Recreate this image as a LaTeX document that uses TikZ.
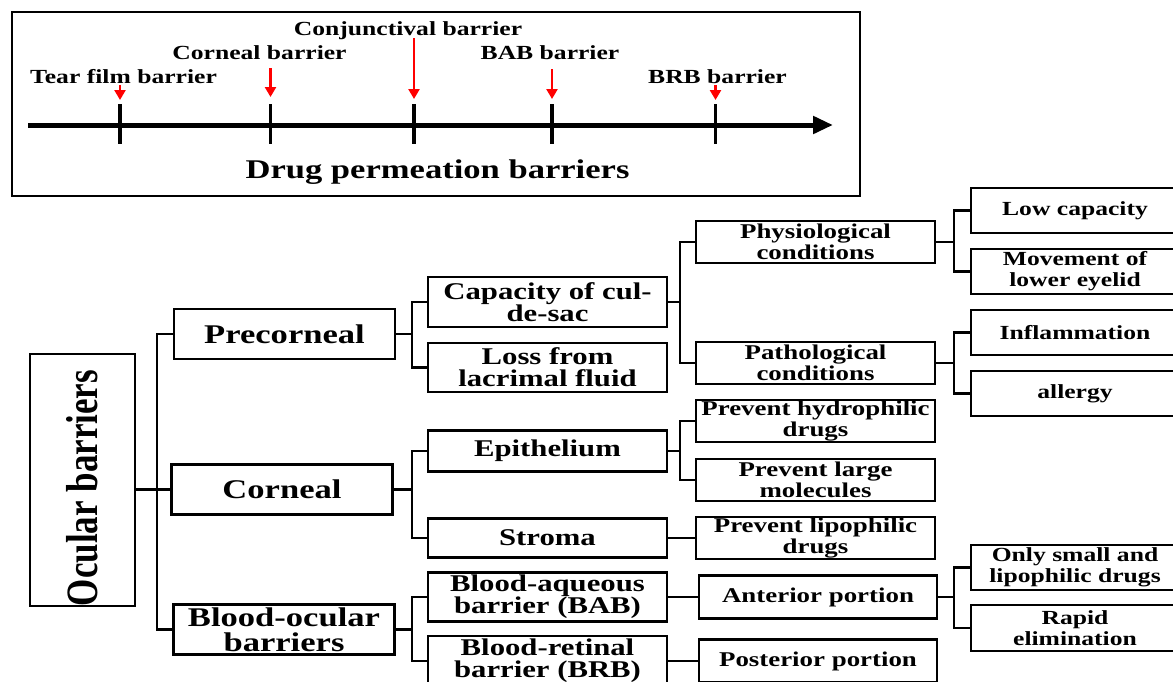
\documentclass[tikz,border=0pt]{standalone}
\usepackage{fontspec}
\usepackage{graphicx}
\usetikzlibrary{arrows.meta,calc}
\newfontfamily\wideserif{Liberation Serif}[FakeStretch=1.28]
\newfontfamily\plainserif{Liberation Serif}
\begin{document}
\begin{tikzpicture}[x=1pt,y=-1pt,
  box/.style={draw, line width=2.6pt, align=center, inner sep=0pt},
  lvone/.style={box, minimum width=221pt, minimum height=50pt, font=\wideserif\bfseries\fontsize{27}{25}\selectfont},
  lvtwo/.style={box, minimum width=239pt, font=\wideserif\bfseries\fontsize{24}{22}\selectfont},
  lvthree/.style={box, minimum width=239pt, minimum height=42pt, font=\wideserif\bfseries\fontsize{21}{21}\selectfont},
  lvfour/.style={box, minimum width=208pt, minimum height=45pt, font=\wideserif\bfseries\fontsize{20}{21}\selectfont},
  toplabel/.style={inner sep=0pt, font=\wideserif\bfseries\fontsize{20}{20}\selectfont},
  conn/.style={line width=2.6pt, line join=miter},
  tickmark/.style={line width=3.5pt},
  redarr/.style={red, line width=2.5pt, -{Triangle[width=11pt,length=10pt]}}
]
\useasboundingbox (0,0) rectangle (1173,681);
\clip (0,0) rectangle (1173,681);
\fill[white] (0,0) rectangle (1173,681);

% ---------- top panel ----------
\node[draw, line width=2.2pt, minimum width=848pt, minimum height=184pt, inner sep=0pt] (topbox) at (436,104) {};
\coordinate (a0) at (28,125);
\coordinate (a1) at (833,125);
\draw[line width=5pt, -{Triangle[width=17pt,length=20pt]}] (a0) -- (a1);
\coordinate (k1) at (120,125);
\coordinate (k2) at (270.5,125);
\coordinate (k3) at (414,125);
\coordinate (k4) at (552,125);
\coordinate (k5) at (715.5,125);
\foreach \k in {k1,k2,k3,k4,k5}{
  \draw[tickmark] ($(\k)+(0,-21)$) -- ($(\k)+(0,19)$);
}
\draw[redarr] ($(k1)+(0,-40)$) -- ($(k1)+(0,-25)$);
\draw[redarr] ($(k2)+(0,-57)$) -- ($(k2)+(0,-28)$);
\draw[redarr] ($(k3)+(0,-87)$) -- ($(k3)+(0,-26)$);
\draw[redarr] ($(k4)+(0,-56)$) -- ($(k4)+(0,-26)$);
\draw[redarr] ($(k5)+(0,-40)$) -- ($(k5)+(0,-25)$);
\node[toplabel] (ltear) at (123.5,77) {Tear film barrier};
\node[toplabel] (lcorn) at (259.5,53) {Corneal barrier};
\node[toplabel] (lconj) at (408,31) {Conjunctival barrier};
\node[toplabel] (lbab) at (550,53) {BAB barrier};
\node[toplabel] (lbrb) at (717.5,77) {BRB barrier};
\node[inner sep=0pt, font=\wideserif\bfseries\fontsize{27}{27}\selectfont] (ldrug) at (437.5,172) {Drug permeation barriers};

% ---------- tree ----------
\node[box, minimum width=105pt, minimum height=250pt] (ocular) at (82.5,480)
  {\rotatebox{90}{\scalebox{1}[1.28]{\plainserif\bfseries\fontsize{35}{35}\selectfont Ocular barriers}\hspace*{16pt}}};

\node[lvone] (pre) at (284.5,334) {Precorneal};
\node[lvone] (cor) at (282,489.5) {Corneal};
\node[lvone] (bo) at (284,629.5) {Blood-ocular\\barriers};

\node[lvtwo, minimum height=50pt] (cap) at (547.5,302) {Capacity of cul-\\de-sac};
\node[lvtwo, minimum height=49pt] (loss) at (547.5,367.5) {Loss from\\lacrimal fluid};
\node[lvtwo, minimum height=41pt] (epi) at (547.5,451) {Epithelium};
\node[lvtwo, minimum height=39pt] (stroma) at (547.5,538) {Stroma};
\node[lvtwo, minimum height=49pt] (bab) at (547.5,597) {Blood-aqueous\\barrier (BAB)};
\node[lvtwo, minimum height=50pt] (brb) at (547.5,661) {Blood-retinal\\barrier (BRB)};

\node[lvthree] (phys) at (815.5,242) {Physiological\\conditions};
\node[lvthree] (path) at (815.5,363) {Pathological\\conditions};
\node[lvthree] (hyd) at (815.5,421) {Prevent hydrophilic\\drugs};
\node[lvthree] (large) at (815.5,480) {Prevent large\\molecules};
\node[lvthree] (lipo) at (815.5,538) {Prevent lipophilic\\drugs};
\node[lvthree, minimum width=238pt, minimum height=43pt] (ant) at (818,597) {Anterior portion};
\node[lvthree, minimum width=238pt, minimum height=43pt] (post) at (818,661) {Posterior portion};

\node[lvfour] (low) at (1075,210.5) {Low capacity};
\node[lvfour] (move) at (1075,271.5) {Movement of\\lower eyelid};
\node[lvfour] (infl) at (1075,332.5) {Inflammation};
\node[lvfour] (allergy) at (1075,393.5) {allergy};
\node[lvfour] (small) at (1075,567.5) {Only small and\\lipophilic drugs};
\node[lvfour, minimum height=46pt] (rapid) at (1075,628) {Rapid\\elimination};

% trunks
\coordinate (t1) at (157,0);
\coordinate (t2) at (412,0);
\coordinate (t3) at (680,0);
\coordinate (t4) at (954,0);

% level 0 -> 1
\draw[conn] (ocular.east |- cor.west) -- (cor.west);
\draw[conn] (pre.west) -- (pre.west -| t1) -- (bo.west -| t1) -- (bo.west);

% level 1 -> 2
\draw[conn] (pre.east) -- (pre.east -| t2);
\draw[conn] (cap.west) -- (cap.west -| t2) -- (loss.west -| t2) -- (loss.west);
\draw[conn] (cor.east) -- (cor.east -| t2);
\draw[conn] (epi.west) -- (epi.west -| t2) -- (stroma.west -| t2) -- (stroma.west);
\draw[conn] (bo.east) -- (bo.east -| t2);
\draw[conn] (bab.west) -- (bab.west -| t2) -- (brb.west -| t2) -- (brb.west);

% level 2 -> 3
\draw[conn] (cap.east) -- (cap.east -| t3);
\draw[conn] (phys.west) -- (phys.west -| t3) -- (path.west -| t3) -- (path.west);
\draw[conn] (epi.east) -- (epi.east -| t3);
\draw[conn] (hyd.west) -- (hyd.west -| t3) -- (large.west -| t3) -- (large.west);
\draw[conn] (stroma.east) -- (stroma.east -| lipo.west);
\draw[conn] (bab.east) -- (bab.east -| ant.west);
\draw[conn] (brb.east) -- (brb.east -| post.west);

% level 3 -> 4
\draw[conn] (phys.east) -- (phys.east -| t4);
\draw[conn] (low.west) -- (low.west -| t4) -- (move.west -| t4) -- (move.west);
\draw[conn] (path.east) -- (path.east -| t4);
\draw[conn] (infl.west) -- (infl.west -| t4) -- (allergy.west -| t4) -- (allergy.west);
\draw[conn] (ant.east) -- (ant.east -| t4);
\draw[conn] (small.west) -- (small.west -| t4) -- (rapid.west -| t4) -- (rapid.west);
\end{tikzpicture}
\end{document}
